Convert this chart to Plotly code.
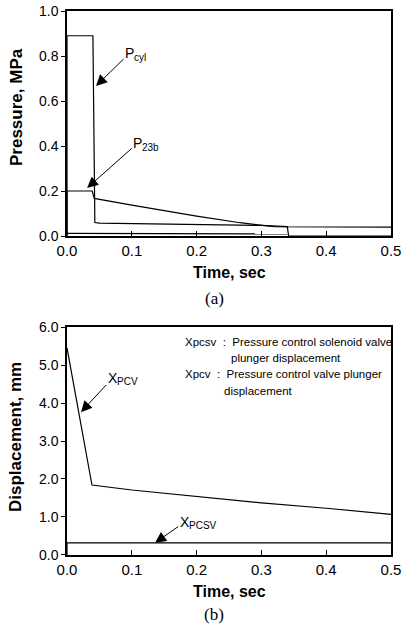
import plotly.graph_objects as go

# ---- data ----
# (a) pressures
t_cyl = [0.0, 0.0, 0.040, 0.043, 0.05, 0.10, 0.20, 0.30, 0.340, 0.342, 0.50]
p_cyl = [0.0, 0.89, 0.89, 0.060, 0.057, 0.055, 0.052, 0.047, 0.042, 0.0, 0.0]

t_23b = [0.0, 0.0, 0.039, 0.042, 0.10, 0.174, 0.20, 0.267, 0.309, 0.32, 0.50]
p_23b = [0.0, 0.20, 0.20, 0.167, 0.137, 0.100, 0.088, 0.059, 0.046, 0.041, 0.039]

t_low = [0.0, 0.340]
p_low = [0.012, 0.009]

# (b) displacements
t_pcv = [0.0, 0.0385, 0.10, 0.20, 0.30, 0.40, 0.50]
x_pcv = [5.45, 1.84, 1.71, 1.54, 1.37, 1.23, 1.07]

t_pcsv = [0.0, 0.0, 0.50]
x_pcsv = [0.0, 0.32, 0.32]

x_ticks = [0.0, 0.1, 0.2, 0.3, 0.4, 0.5]
y_ticks_a = [0.0, 0.2, 0.4, 0.6, 0.8, 1.0]
y_ticks_b = [0.0, 1.0, 2.0, 3.0, 4.0, 5.0, 6.0]

legend_lines = [
    "Xpcsv  :  Pressure control solenoid valve",
    "plunger displacement",
    "Xpcv  :  Pressure control valve plunger",
    "displacement",
]

FONT = "Liberation Sans, Arial, sans-serif"
line_style = dict(color="black", width=1.2)

fig = go.Figure()
fig.add_trace(go.Scatter(x=t_cyl, y=p_cyl, mode="lines", line=line_style, xaxis="x", yaxis="y"))
fig.add_trace(go.Scatter(x=t_23b, y=p_23b, mode="lines", line=line_style, xaxis="x", yaxis="y"))
fig.add_trace(go.Scatter(x=t_low, y=p_low, mode="lines", line=line_style, xaxis="x", yaxis="y"))
fig.add_trace(go.Scatter(x=t_pcv, y=x_pcv, mode="lines", line=line_style, xaxis="x2", yaxis="y2"))
fig.add_trace(go.Scatter(x=t_pcsv, y=x_pcsv, mode="lines", line=line_style, xaxis="x2", yaxis="y2"))

ax_common = dict(showgrid=False, zeroline=False, showline=True, linecolor="black",
                 linewidth=1.5, mirror=True, automargin=False)
xcommon = dict(ax_common, range=[0, 0.5], tickvals=x_ticks,
               ticktext=[f"{v:.1f}" for v in x_ticks], ticks="inside", ticklen=5,
               tickcolor="black", tickfont=dict(family=FONT, size=15, color="black"))

fig.update_layout(
    width=402, height=631, autosize=False,
    margin=dict(l=67, r=11, t=11, b=76),
    paper_bgcolor="white", plot_bgcolor="white",
    showlegend=False,
    xaxis=dict(xcommon, domain=[0, 1], anchor="y"),
    yaxis=dict(ax_common, domain=[0.5864, 1.0], anchor="x", range=[0, 1.0],
               tickvals=y_ticks_a, ticktext=[f"{v:.1f}" for v in y_ticks_a],
               ticks="outside", ticklen=4, tickcolor="black",
               tickfont=dict(family=FONT, size=14, color="black")),
    xaxis2=dict(xcommon, domain=[0, 1], anchor="y2"),
    yaxis2=dict(ax_common, domain=[0.0, 0.4191], anchor="x2", range=[0, 6.0],
                tickvals=y_ticks_b, ticktext=[f"{v:.1f}" for v in y_ticks_b],
                ticks="outside", ticklen=4, tickcolor="black",
                tickfont=dict(family=FONT, size=14, color="black")),
)

ann = []
# axis titles and captions (paper coordinates)
def paper_text(text, px, py, size, bold=True, angle=0, family=FONT, xanchor="center"):
    ann.append(dict(text=f"<b>{text}</b>" if bold else text, xref="paper", yref="paper",
                    x=(px - 67) / 324, y=(555 - py) / 544, showarrow=False,
                    xanchor=xanchor, yanchor="middle", textangle=angle,
                    font=dict(family=family, size=size, color="black")))

paper_text("Pressure, MPa", 16, 107, 17, angle=-90)
paper_text("Time, sec", 229, 272, 16)
paper_text("(a)", 214, 298, 17, bold=False, family="Liberation Serif, serif")
paper_text("Displacement, mm", 15, 437, 17, angle=-90)
paper_text("Time, sec", 229, 591, 16)
paper_text("(b)", 214, 614, 17, bold=False, family="Liberation Serif, serif")

# legend text in panel (b)
for txt, px, py in zip(legend_lines, [183, 229, 183, 222], [342, 358, 374, 391]):
    paper_text(txt, px, py, 11.5, bold=False, xanchor="left")

# curve labels with arrows: main letter at the arrow tail, subscript beside it
def label_arrow(main, sub, left_px, ly, hx, hy, xr, yr):
    lx = (left_px + 4.7 - 67) / 648
    sx = (left_px + 7.0 - 67) / 648
    ann.append(dict(text=main, x=hx, y=hy, ax=lx, ay=ly, xref=xr, yref=yr,
                    axref=xr, ayref=yr, showarrow=True, arrowhead=2,
                    arrowsize=2.2, arrowwidth=1, arrowcolor="black", standoff=0,
                    font=dict(family=FONT, size=14, color="black")))
    ann.append(dict(text=sub, x=sx, y=ly, xref=xr, yref=yr, showarrow=False,
                    xanchor="left", yanchor="middle", yshift=-4,
                    font=dict(family=FONT, size=10, color="black")))

label_arrow("P", "cyl", 125, 0.813, 0.0448, 0.667, "x", "y")
label_arrow("P", "23b", 133, 0.413, 0.031, 0.213, "x", "y")
label_arrow("X", "PCV", 108, 4.66, 0.0216, 3.76, "x2", "y2")
label_arrow("X", "PCSV", 180, 0.87, 0.136, 0.32, "x2", "y2")

fig.update_layout(annotations=ann)
fig.write_html("out.html")
